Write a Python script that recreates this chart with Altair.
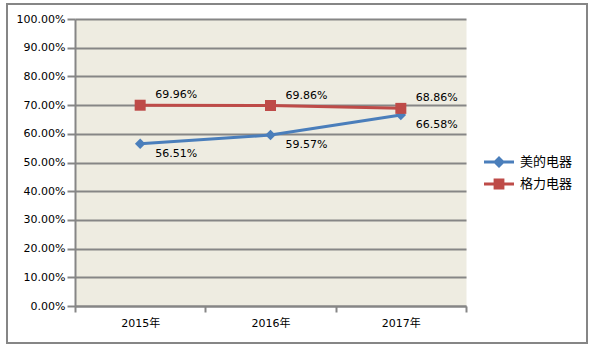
import altair as alt
import pandas as pd

years = ["2015年", "2016年", "2017年"]
series_names = ["美的电器", "格力电器"]
midea = [0.5651, 0.5957, 0.6658]
gree = [0.6996, 0.6986, 0.6886]
colors = ["#4A7EBB", "#BE4B48"]
y_ticks = [0.0, 0.1, 0.2, 0.3, 0.4, 0.5, 0.6, 0.7, 0.8, 0.9, 1.0]

rows = []
for yr, v in zip(years, midea):
    rows.append({"year": yr, "series": series_names[0], "v": v})
for yr, v in zip(years, gree):
    rows.append({"year": yr, "series": series_names[1], "v": v})
df = pd.DataFrame(rows)

FONT = "DejaVu Sans, Noto Sans CJK SC"
GRAY = "#868686"

x = alt.X(
    "year:N",
    sort=years,
    scale=alt.Scale(type="band", paddingInner=0, paddingOuter=0),
    axis=alt.Axis(
        title=None, labelAngle=0, tickBand="extent", grid=False,
        domainColor=GRAY, domainWidth=2, tickColor=GRAY, tickWidth=2,
        tickSize=6, labelPadding=5, labelFont=FONT, labelFontSize=11,
        labelColor="#000000",
    ),
)
y = alt.Y(
    "v:Q",
    scale=alt.Scale(domain=[0, 1], nice=False),
    axis=alt.Axis(
        title=None, values=y_ticks, format=".2%", grid=True,
        gridColor=GRAY, gridWidth=2, gridOpacity=1,
        domainColor=GRAY, domainWidth=2, tickColor=GRAY, tickWidth=2,
        tickSize=8, labelPadding=2, labelFont=FONT, labelFontSize=11,
        labelColor="#000000",
    ),
)

base = alt.Chart(df)
m_sel = alt.datum.series == series_names[0]
g_sel = alt.datum.series == series_names[1]

line_m = base.transform_filter(m_sel).mark_line(color=colors[0], strokeWidth=3).encode(x=x, y=y)
line_g = base.transform_filter(g_sel).mark_line(color=colors[1], strokeWidth=3).encode(x=x, y=y)
pt_m = base.transform_filter(m_sel).mark_point(
    shape="diamond", filled=True, size=110, opacity=1, color=colors[0]
).encode(x=x, y=y)
pt_g = base.transform_filter(g_sel).mark_point(
    shape="square", filled=True, size=121, opacity=1, color=colors[1]
).encode(x=x, y=y)

txt_m = base.transform_filter(m_sel).mark_text(
    align="left", dx=15, dy=10, font=FONT, fontSize=11, color="#000000"
).encode(x=x, y=y, text=alt.Text("v:Q", format=".2%"))
txt_g = base.transform_filter(g_sel).mark_text(
    align="left", dx=15, dy=-10, font=FONT, fontSize=11, color="#000000"
).encode(x=x, y=y, text=alt.Text("v:Q", format=".2%"))

diamond_path = "M-1,-0.1H1V0.1H-1Z M0,-0.4L0.4,0L0,0.4L-0.4,0Z"
square_path = "M-1,-0.1H1V0.1H-1Z M-0.36,-0.36H0.36V0.36H-0.36Z"

leg = alt.Legend(
    title=None, orient="none", legendX=409, legendY=128, padding=0,
    symbolSize=900, symbolStrokeWidth=0, symbolOpacity=1,
    labelFont="Noto Sans CJK SC", labelFontSize=13, labelColor="#000000",
    labelOffset=6, rowPadding=0,
)
legend_layer = base.mark_point(filled=True, opacity=0).encode(
    x=x, y=y,
    color=alt.Color("series:N", scale=alt.Scale(domain=series_names, range=colors), legend=leg),
    shape=alt.Shape("series:N", scale=alt.Scale(domain=series_names, range=[diamond_path, square_path]), legend=leg),
)

frame = alt.Chart(pd.DataFrame({"a": [0]})).mark_rect(
    fillOpacity=0, stroke=GRAY, strokeWidth=2
).encode(x=alt.value(-68), x2=alt.value(512), y=alt.value(-15), y2=alt.value(324))

chart = alt.layer(
    frame, line_m, line_g, pt_m, pt_g, txt_m, txt_g, legend_layer
).properties(
    width=391, height=287,
    autosize=alt.AutoSizeParams(type="none"),
    padding={"left": 75, "top": 19, "right": 132, "bottom": 47},
    background="#FFFFFF",
).configure_view(fill="#EEECE1", strokeOpacity=0)

chart.save("out.html", embed_options={"renderer": "svg", "actions": False})
